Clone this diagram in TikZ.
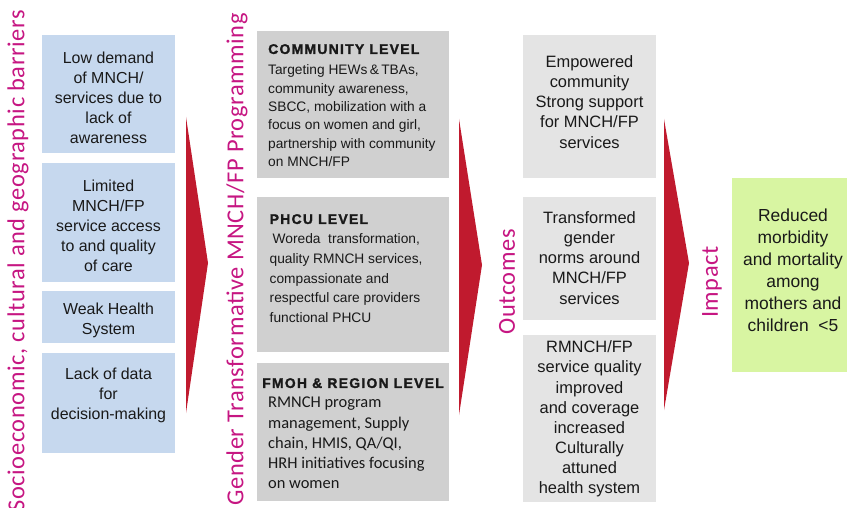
\documentclass[tikz,border=0pt]{standalone}
\usepackage{fontspec}
\setmainfont{Liberation Sans}
\newfontfamily\titlefont[LetterSpace=2.5]{Carlito}
\newfontfamily\calfont{Carlito}
\newfontfamily\levelfont[LetterSpace=9,BoldFeatures={FakeBold=1.6}]{Liberation Sans}

\definecolor{boxblue}{RGB}{198,216,238}
\definecolor{boxgray}{RGB}{208,208,208}
\definecolor{boxlight}{RGB}{228,228,228}
\definecolor{boxgreen}{RGB}{216,245,162}
\definecolor{arrowred}{RGB}{192,26,46}
\definecolor{titlemag}{RGB}{198,22,130}
\definecolor{ink}{RGB}{25,25,25}

\begin{document}
\begin{tikzpicture}[x=1bp,y=-1bp,
  panel/.style={draw=none,inner sep=0,outer sep=0},
  bluebox/.style={panel,fill=boxblue,minimum width=133bp},
  graybox/.style={panel,fill=boxgray,minimum width=192bp},
  lightbox/.style={panel,fill=boxlight,minimum width=133bp},
  greenbox/.style={panel,fill=boxgreen,minimum width=115bp},
  bodytext/.style={inner sep=0,text=ink,align=center,font=\fontsize{16}{20}\selectfont},
  outtext/.style={inner sep=0,text=ink,align=center,font=\fontsize{16.5}{20.2}\selectfont},
  leveltext/.style={inner sep=0,text=ink,align=left,anchor=north west},
  coltitle/.style={inner sep=0,text=titlemag,rotate=90,font=\titlefont\fontsize{24.5}{28}\selectfont},
  bigarrow/.style={fill=arrowred,draw=none}
]
\useasboundingbox (0,0) rectangle (847,508);

% column titles
\node[coltitle,anchor=east] (t1) at (18,10) {Socioeconomic, cultural and geographic barriers};
\node[coltitle,anchor=east] (t2) at (237,13) {Gender Transformative MNCH/FP Programming};
\node[coltitle] (t3) at (507,282) {Outcomes};
\node[coltitle] (t4) at (712,282) {Impact};

% barriers
\node[bluebox,minimum height=118bp] (b1) at (108.5,94) {};
\node[bodytext] (b1t) at (108.5,98) {Low demand\\of MNCH/\\services due to\\lack of\\awareness};
\node[bluebox,minimum height=119bp] (b2) at (108.5,222.5) {};
\node[bodytext] (b2t) at (108.5,226) {Limited\\MNCH/FP\\service access\\to and quality\\of care};
\node[bluebox,minimum height=52bp] (b3) at (108.5,317) {};
\node[bodytext] (b3t) at (108.5,320) {Weak Health\\System};
\node[bluebox,minimum height=100bp] (b4) at (108.5,403) {};
\node[bodytext] (b4t) at (108.5,395) {Lack of data\\for\\decision-making};

% programming levels
\node[graybox,minimum height=147bp] (p1) at (353,104.5) {};
\node[leveltext,font=\fontsize{13.8}{18.4}\selectfont] (p1t) at (268,44)
  {{\levelfont\bfseries\fontsize{14}{18}\selectfont COMMUNITY LEVEL}\\[2.6bp]
   Targeting HEWs\,\&\,TBAs,\\community awareness,\\SBCC, mobilization with a\\focus on women and girl,\\partnership with community\\on MNCH/FP};
\node[graybox,minimum height=155bp] (p2) at (353,274.5) {};
\node[leveltext,font=\fontsize{13.8}{19.7}\selectfont] (p2t) at (269.5,214)
  {{\levelfont\bfseries\fontsize{14}{18}\selectfont PHCU LEVEL}\\[0.3bp]
   \hspace{3bp}Woreda\ \ transformation,\\quality RMNCH services,\\compassionate and\\respectful care providers\\functional PHCU};
\node[graybox,minimum height=138bp] (p3) at (353,432) {};
\node[leveltext,font=\calfont\fontsize{16.5}{20.3}\selectfont] (p3t) at (262,378)
  {{\levelfont\bfseries\fontsize{14}{18}\selectfont FMOH \& REGION LEVEL}\\[-0.3bp]
   \hspace{6bp}RMNCH program\\\hspace{6bp}management, Supply\\\hspace{6bp}chain, HMIS, QA/QI,\\\hspace{6bp}HRH initiatives focusing\\\hspace{6bp}on women};

% outcomes
\node[lightbox,minimum height=143bp] (o1) at (589.5,106.5) {};
\node[outtext] (o1t) at (589.5,102) {Empowered\\community\\Strong support\\for MNCH/FP\\services};
\node[lightbox,minimum height=123bp] (o2) at (589.5,258.5) {};
\node[outtext] (o2t) at (589.5,258) {Transformed\\gender\\norms around\\MNCH/FP\\services};
\node[lightbox,minimum height=167bp] (o3) at (589.5,418.5) {};
\node[outtext] (o3t) at (589.5,419) {RMNCH/FP\\service quality\\improved\\and coverage\\increased\\Culturally\\attuned\\health system};

% impact
\node[greenbox,minimum height=194bp] (g1) at (789.5,275) {};
\node[inner sep=0,text=ink,align=center,font=\fontsize{17.5}{22}\selectfont] (g1t) at (793,270.5)
  {Reduced\\morbidity\\and mortality\\among\\mothers and\\children\ \ <5};

% stage arrows
\fill[bigarrow] (186,117) -- (208,263) -- (186,413) -- cycle;
\fill[bigarrow] (459,119) -- (482,265) -- (459,415) -- cycle;
\fill[bigarrow] (664,119) -- (689,263) -- (664,410) -- cycle;
\end{tikzpicture}
\end{document}
